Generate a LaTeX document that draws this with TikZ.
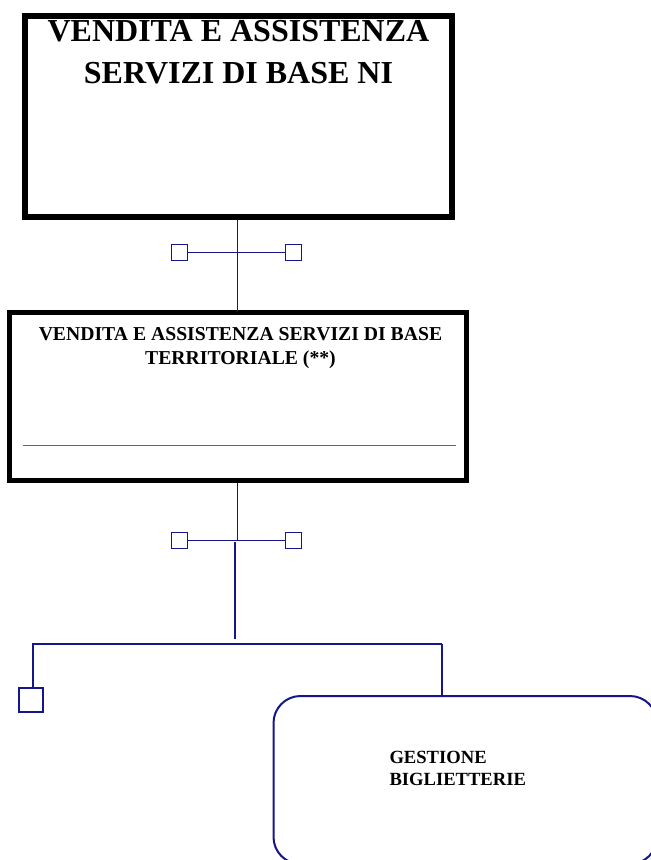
\documentclass[tikz,border=0pt]{standalone}
\usepackage{fontspec}
\setmainfont{Liberation Serif}
\definecolor{navy}{RGB}{22,22,140}
\begin{document}
\begin{tikzpicture}[x=1pt,y=-1pt,
  bigbox/.style={draw=black, line width=6.5pt, inner sep=0pt, minimum width=427pt, minimum height=201pt},
  midbox/.style={draw=black, line width=5pt, inner sep=0pt, minimum width=457pt, minimum height=168pt},
  smallsq/.style={draw=navy, line width=1pt, inner sep=0pt, minimum size=16pt},
  leafsq/.style={draw=navy, line width=2pt, inner sep=0pt, minimum size=24pt},
  thin/.style={draw=navy, line width=1pt},
  thick/.style={draw=navy, line width=2pt},
  bigtxt/.style={anchor=base, inner sep=0pt, font=\fontsize{32}{38}\selectfont\bfseries},
  midtxt/.style={anchor=base, inner sep=0pt, font=\fontsize{19.7}{24}\selectfont\bfseries},
  leaftxt/.style={anchor=base west, inner sep=0pt, font=\fontsize{18.6}{22}\selectfont\bfseries}
]
\useasboundingbox (0,0) rectangle (651,860);
\fill[white] (0,0) rectangle (651,860);

% top box
\node[bigbox] (top) at (238.5,116.5) {};
\node[bigtxt] (topa) at (238.5,41.7) {VENDITA E ASSISTENZA};
\node[bigtxt] (topb) at (238.5,83) {SERVIZI DI BASE NI};

% second box
\node[midbox] (mid) at (238,396.5) {};
\node[midtxt] (mida) at (240.5,340) {VENDITA E ASSISTENZA SERVIZI DI BASE};
\node[midtxt] (midb) at (240.5,364) {TERRITORIALE (**)};
\coordinate (gl) at (23,445.7);
\coordinate (gr) at (456,445.7);
\draw[gray!80!black, line width=1pt] (gl) -- (gr);

% first connector
\coordinate (c1t) at (237.3,220);
\coordinate (c1b) at (237.3,312);
\coordinate (c1m) at (237.3,252);
\node[smallsq] (s1l) at (179.5,252) {};
\node[smallsq] (s1r) at (293.5,252) {};
\draw[thin] (c1t) -- (c1b);
\draw[thin] (s1l) -- (s1r);

% second connector
\coordinate (c2t) at (237.3,483);
\coordinate (c2m) at (237.3,540);
\node[smallsq] (s2l) at (179.3,540) {};
\node[smallsq] (s2r) at (293.3,540) {};
\draw[thin] (c2t) -- (c2m);
\draw[thin] (s2l) -- (s2r);

% trunk and bus
\coordinate (tr1) at (235.3,542);
\coordinate (tr2) at (235.3,639);
\draw[thick] (tr1) -- (tr2);
\coordinate (bl) at (33,644);
\coordinate (br) at (441.7,644);
\node[leafsq] (leaf) at (31.2,700) {};
\draw[thick] (leaf.north -| bl) -- (bl) -- (br);

% rounded box
\draw[thick, rounded corners=27pt] (273.5,696) rectangle (657,864);
\coordinate (rtop) at (441.7,696);
\draw[thick] (br) -- (rtop);
\node[leaftxt] (g1) at (389.3,763.3) {GESTIONE};
\node[leaftxt] (g2) at (389.3,785) {BIGLIETTERIE};
\end{tikzpicture}
\end{document}
